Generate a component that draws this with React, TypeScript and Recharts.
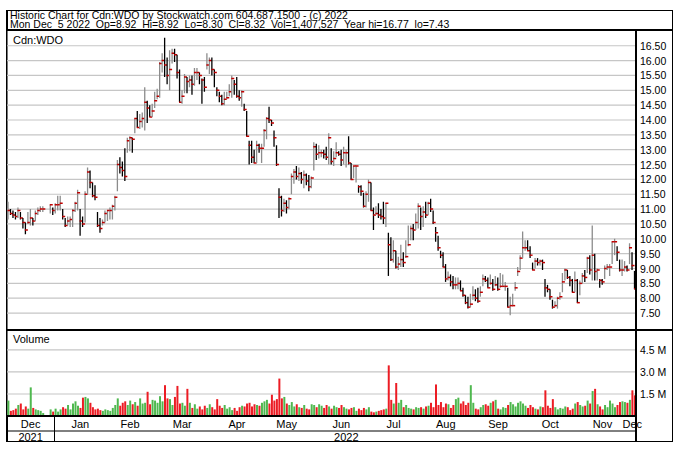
import { ComposedChart, Bar, XAxis, YAxis, CartesianGrid, Cell } from "recharts";

const FONT = "'Liberation Sans', Arial, sans-serif";

// trading-day index where each month starts (Dec 2021 .. Dec 2022)
const monthStarts = [0, 19, 40, 59, 82, 102, 123, 145, 165, 187, 208, 228, 250];
const monthLabels = ["Dec", "Jan", "Feb", "Mar", "Apr", "May", "Jun", "Jul", "Aug", "Sep", "Oct", "Nov", "Dec"];
const yearStarts = [0, 19];
const yearLabels = ["2021", "2022"];

const priceTicks = [7.5, 8, 8.5, 9, 9.5, 10, 10.5, 11, 11.5, 12, 12.5, 13, 13.5, 14, 14.5, 15, 15.5, 16, 16.5];
const volumeTicks = [1.5, 3.0, 4.5];

// one line per month
const highs = [
  11.25, 11.0, 10.95, 10.9, 11.05, 10.9, 10.7, 10.55, 10.9, 11.0, 10.7, 10.95, 11.05, 11.1, 11.1, null, null, 11.15, 11.05,
  11.2, 11.45, 11.45, 11.0, 10.7, 10.75, 10.75, 11.0, 11.25, 11.65, 11.0, 10.75, 11.6, 12.4, 12.3, 11.9, 11.8, 10.9, 10.7, 10.65, 10.95,
  10.95, 11.05, 11.15, 11.45, 12.65, 12.75, 12.6, 13.05, 13.4, 13.45, 13.4, 14.05, 14.3, 14.2, 14.25, 15.1, 14.65, 14.5, 14.55,
  14.95, 15.05, 15.95, 16.25, 16.77, 16.1, 16.35, 16.4, 16.4, 16.2, 15.7, 15.0, 15.55, 15.45, 15.5, 15.5, 15.75, 15.75, 15.6, 15.4, 15.45, 16.25, 16.1,
  16.1, 15.7, 15.1, 14.95, 14.85, 14.95, 14.95, 15.2, 15.5, 15.35, 15.45, 15.0, 15.0, 14.55, 14.3, 13.3, 13.3, 13.0, 13.3, 13.2,
  13.2, 13.7, 14.1, 14.45, 14.0, 13.65, 13.15, 11.7, 11.45, 11.35, 11.3, 11.4, 12.2, 12.35, 12.45, 12.4, 12.25, 12.3, 12.2, 12.15, 12.1,
  13.25, 13.2, 13.15, 13.0, 13.0, 13.1, 13.55, 13.05, 12.95, 13.25, 12.95, 13.0, 13.1, 13.0, 13.45, 12.55, 12.45, 12.45, 11.8, 11.8, 11.55, 11.6,
  12.0, 11.9, 11.05, 11.1, 11.2, 11.0, 11.25, 11.2, 10.2, 10.05, 9.95, 9.6, 9.4, 9.8, 9.55, 9.95, 10.45, 10.45, 10.5, 10.85,
  11.2, 11.05, 11.1, 11.25, 11.25, 11.35, 10.95, 10.4, 10.1, 9.6, 9.55, 9.15, 8.9, 8.8, 8.75, 8.7, 8.7, 8.6, 8.35, 8.1, 8.05, 8.15,
  8.4, 8.3, 8.35, 8.4, 8.8, 8.75, 8.7, 8.8, 8.65, 8.75, 8.7, 8.85, 8.8, 8.55, 8.35, 8.05, 8.15, 8.55, 9.05, 9.45, 10.25,
  9.95, 9.95, 9.75, 9.2, 9.35, 9.35, 9.3, 9.3, 8.65, 8.45, 8.3, 7.95, 7.9, 8.05, 8.2, 8.85, 9.0, 8.95, 8.75, 8.65,
  8.9, 8.65, 8.6, 8.85, 8.95, 9.4, 9.45, 10.45, 9.5, 9.0, 8.65, 8.65, 9.1, 9.15, 9.15, 9.9, 10.0, 9.75, 9.3, 9.3, 9.25, 9.1,
  9.85, 9.55, 8.92,
];

const lows = [
  10.65, 10.8, 10.7, 10.65, 10.7, 10.65, 10.35, 10.15, 10.5, 10.45, 10.45, 10.6, 10.8, 10.9, 10.9, null, null, 10.85, 10.8,
  10.85, 10.95, 10.95, 10.65, 10.4, 10.45, 10.4, 10.4, 10.9, 10.95, 10.1, 10.4, 10.55, 11.5, 11.7, 11.4, 11.3, 10.4, 10.2, 10.45, 10.55,
  10.6, 10.65, 10.65, 10.95, 11.6, 12.2, 12.1, 11.95, 12.9, 12.95, 12.9, 13.55, 13.75, 13.7, 13.75, 13.65, 13.9, 14.1, 14.1,
  14.4, 14.7, 14.75, 15.6, 15.45, 15.2, 15.0, 15.9, 15.95, 15.4, 14.6, 14.55, 14.9, 14.9, 15.1, 14.85, 15.15, 15.35, 15.2, 14.55, 14.95, 15.7, 15.55,
  15.5, 15.1, 14.8, 14.6, 14.5, 14.5, 14.7, 14.8, 14.75, 14.85, 14.75, 14.65, 14.45, 14.3, 13.45, 12.5, 12.55, 12.55, 12.55, 12.9,
  12.55, 13.1, 13.35, 13.9, 13.8, 13.1, 12.45, 10.7, 10.75, 10.9, 10.85, 11.0, 11.5, 11.85, 12.0, 11.95, 11.85, 11.7, 11.8, 11.6, 11.7,
  12.3, 12.65, 12.7, 12.75, 12.7, 12.65, 12.5, 12.5, 12.45, 12.75, 12.8, 12.45, 12.5, 12.4, 12.5, 12.0, 12.05, 11.9, 11.55, 11.45, 11.05, 11.05,
  11.25, 10.95, 10.3, 10.8, 10.7, 10.65, 10.5, 10.4, 8.75, 9.25, 9.2, 9.0, 8.95, 9.05, 9.05, 9.35, 9.75, 9.95, 9.95, 10.3,
  10.35, 10.3, 10.4, 10.7, 10.8, 10.9, 10.5, 9.9, 9.6, 9.35, 9.05, 8.55, 8.6, 8.4, 8.3, 8.3, 8.3, 8.25, 8.05, 7.8, 7.65, 7.7,
  7.95, 7.9, 7.85, 8.05, 8.4, 8.55, 8.35, 8.45, 8.25, 8.4, 8.25, 8.35, 8.4, 8.25, 7.7, 7.43, 7.75, 8.25, 8.75, 8.95, 9.35,
  9.6, 9.6, 9.35, 8.95, 9.0, 9.1, 9.1, 8.95, 8.05, 8.2, 7.95, 7.65, 7.7, 7.65, 7.95, 8.2, 8.6, 8.65, 8.4, 8.2,
  8.2, 7.85, 8.1, 8.5, 8.55, 8.85, 8.8, 8.6, 8.6, 8.6, 8.35, 8.45, 8.65, 8.95, 8.75, 9.15, 9.45, 9.25, 8.9, 8.75, 8.9, 8.9,
  9.15, 8.95, 8.3,
];

const closes = [
  10.95, 10.85, 10.8, 10.75, 10.95, 10.7, 10.55, 10.3, 10.55, 10.7, 10.6, 10.85, 10.95, 11.0, 11.0, null, null, 11.15, 10.95,
  11.15, 11.15, 11.2, 10.75, 10.45, 10.6, 10.65, 10.95, 11.2, 11.55, 10.6, 10.5, 11.5, 12.25, 11.9, 11.45, 11.4, 10.45, 10.35, 10.55, 10.85,
  10.95, 10.95, 11.1, 11.4, 12.5, 12.4, 12.3, 12.1, 13.3, 13.4, 13.35, 14.05, 13.75, 13.95, 14.05, 14.6, 14.4, 14.1, 14.3,
  14.65, 14.8, 15.9, 16.0, 15.85, 15.5, 15.7, 16.25, 16.2, 15.6, 14.6, 14.8, 15.45, 15.3, 15.35, 15.2, 15.6, 15.6, 15.5, 15.35, 15.1, 15.85, 16.0,
  15.7, 15.6, 15.0, 14.8, 14.55, 14.7, 14.75, 14.95, 15.4, 15.2, 14.8, 14.75, 14.95, 14.35, 13.45, 13.15, 12.75, 12.55, 13.15, 13.05,
  13.05, 13.65, 14.05, 14.0, 13.9, 13.4, 12.5, 11.4, 10.95, 11.2, 11.05, 11.35, 12.1, 12.25, 12.1, 12.2, 12.0, 12.15, 11.95, 11.75, 12.05,
  13.1, 12.85, 12.9, 12.9, 12.85, 12.75, 13.4, 12.6, 12.7, 12.9, 12.85, 12.65, 12.9, 12.9, 12.55, 12.0, 12.45, 12.45, 11.75, 11.6, 11.1, 11.5,
  11.9, 10.95, 10.8, 10.85, 10.8, 10.75, 10.7, 11.2, 9.8, 9.3, 9.6, 9.05, 9.15, 9.3, 9.2, 9.4, 9.8, 10.35, 10.3, 10.55,
  11.1, 10.75, 10.9, 10.8, 11.2, 11.0, 10.55, 10.2, 9.7, 9.45, 9.05, 8.65, 8.7, 8.55, 8.45, 8.45, 8.5, 8.25, 8.1, 7.85, 7.7, 7.8,
  8.1, 8.0, 7.9, 8.2, 8.65, 8.6, 8.35, 8.5, 8.3, 8.45, 8.3, 8.4, 8.4, 8.4, 7.7, 7.75, 7.75, 8.35, 8.9, 9.35, 9.7,
  9.7, 9.6, 9.45, 8.95, 9.25, 9.2, 9.25, 9.2, 8.35, 8.3, 8.05, 7.7, 7.75, 8.0, 8.05, 8.55, 8.95, 8.7, 8.6, 8.2,
  8.6, 7.85, 8.5, 8.75, 8.7, 9.35, 8.95, 9.45, 8.9, 8.95, 8.6, 8.55, 9.0, 9.05, 9.05, 9.9, 9.9, 9.55, 8.95, 8.95, 9.05, 8.95,
  9.7, 9.1, 8.32,
];

// volume in millions of shares
const volumes = [
  1.05, 0.35, 0.4, 0.5, 0.75, 0.85, 0.45, 0.65, 0.5, 1.95, 0.55, 0.45, 0.4, 0.35, 0.2, null, null, 0.45, 0.3,
  0.5, 0.3, 0.45, 0.6, 0.5, 0.75, 0.45, 0.85, 1.0, 0.7, 0.55, 1.25, 1.3, 1.2, 0.9, 0.6, 0.45, 0.5, 0.4, 0.35, 0.45,
  0.4, 0.35, 0.55, 0.75, 1.2, 0.7, 0.9, 1.0, 0.75, 1.05, 0.8, 0.95, 0.7, 1.2, 0.85, 0.9, 1.65, 0.8, 1.1,
  1.05, 0.9, 1.35, 1.0, 2.1, 1.2, 1.15, 0.75, 1.3, 2.05, 0.85, 0.9, 0.7, 1.85, 0.9, 0.55, 0.8, 0.5, 0.65, 0.45, 0.7, 0.55, 0.8,
  0.6, 0.45, 1.15, 0.7, 0.55, 0.75, 0.5, 0.6, 0.4, 0.55, 0.35, 0.6, 0.7, 0.65, 0.85, 0.9, 0.65, 0.8, 0.75, 0.7,
  0.9, 1.0, 1.1, 0.85, 1.45, 1.05, 1.15, 2.55, 1.2, 1.3, 0.85, 0.75, 0.95, 0.65, 0.8, 0.6, 0.55, 0.75, 0.5, 0.45, 0.8,
  0.75, 0.6, 0.8, 0.7, 0.55, 0.75, 0.65, 0.5, 0.7, 0.6, 0.55, 0.75, 0.6, 0.5, 0.45, 0.55, 0.6, 0.35, 0.5, 0.4, 0.55, 0.45,
  0.6, 0.3, 0.25, 0.3, 0.35, 0.4, 0.45, 0.5, 3.45, 1.1, 0.85, 2.25, 0.9, 1.1, 0.6, 0.75, 0.55, 0.5, 0.45, 0.6,
  0.55, 0.6, 0.5, 0.65, 0.7, 0.9, 0.6, 2.15, 0.75, 0.95, 0.6, 0.85, 0.8, 0.55, 0.75, 1.15, 1.25, 0.85, 1.0, 0.75, 0.9, 2.1,
  0.9, 0.5, 0.45, 0.6, 0.75, 0.8, 0.7, 0.9, 1.0, 1.1, 0.5, 0.45, 0.6, 0.55, 0.75, 0.95, 0.8, 0.65, 0.9, 1.0, 0.85,
  0.7, 0.55, 0.75, 0.6, 0.5, 0.45, 0.65, 0.6, 1.75, 0.7, 0.55, 1.15, 0.6, 0.45, 0.55, 0.5, 0.65, 0.6, 0.4, 0.5,
  0.85, 0.95, 0.75, 0.65, 0.7, 1.05, 0.85, 1.7, 1.85, 0.8, 0.65, 0.45, 0.75, 0.6, 1.05, 0.85, 0.6, 0.75, 0.95, 1.0, 0.95, 0.9,
  1.1, 1.75, 1.41,
];

let prevClose: number | null = null;
const rows = highs.map((h, i) => {
  const c = closes[i];
  const up = c == null || prevClose == null ? true : c >= prevClose;
  if (c != null) prevClose = c;
  return { i, high: h, low: lows[i], close: c, vol: volumes[i], up };
});

const spanMids = (starts: number[]) =>
  starts.map((s, k) => Math.floor((s + (starts[k + 1] ?? rows.length)) / 2));
const monthMids = spanMids(monthStarts);
const yearMids = spanMids(yearStarts);
const monthByMid = new Map(monthMids.map((m, k) => [m, monthLabels[k]]));
const yearByMid = new Map(yearMids.map((m, k) => [m, yearLabels[k]]));

const OhlcShape = (props: any) => {
  const { x, y, width, height, index } = props;
  const d = props.payload ?? rows[index];
  if (!d || d.high == null) return null;
  const top = Math.min(y, y + height);
  const span = Math.abs(height);
  const cx = x + width / 2;
  const range = d.high - d.low;
  const cy = top + (range > 0 ? ((d.high - d.close) / range) * span : 0);
  return (
    <g>
      <line x1={cx} x2={cx} y1={top} y2={top + Math.max(span, 1)} stroke={d.up ? "#8c8c8c" : "#000"} strokeWidth={1.3} />
      <line x1={cx - 0.5} x2={cx + 2.5} y1={cy} y2={cy} stroke="#c00000" strokeWidth={1.5} />
    </g>
  );
};

const MonthTick = ({ x, y, payload }: any) => (
  <text x={x} y={y + 12} textAnchor="middle" fontSize={11} fontFamily={FONT} fill="#000">
    {monthByMid.get(payload.value)}
  </text>
);

const YearTick = ({ x, y, payload }: any) => (
  <text x={x} y={y + 10} textAnchor="middle" fontSize={11} fontFamily={FONT} fill="#000">
    {yearByMid.get(payload.value)}
  </text>
);

const PriceTick = ({ x, y, payload }: any) => (
  <text x={x} y={y + 4} textAnchor="start" fontSize={10.5} fontFamily={FONT} fill="#000">
    {payload.value.toFixed(2)}
  </text>
);

const VolumeTick = ({ x, y, payload }: any) => (
  <text x={x} y={y + 4} textAnchor="start" fontSize={10.5} fontFamily={FONT} fill="#000" style={{ whiteSpace: "pre" }}>
    {payload.value.toFixed(1) + " M"}
  </text>
);

const line = (left: number, top: number, width: number, height: number) => (
  <div style={{ position: "absolute", left, top, width, height, background: "#000" }} />
);

export default function App() {
  const gridStroke = "#c6c6c6";
  return (
    <div style={{ position: "absolute", left: 0, top: 0, width: 680, height: 449, background: "#fff", fontFamily: FONT, color: "#000", overflow: "hidden" }}>
      <div style={{ position: "absolute", left: 6, top: 10, width: 667, height: 432, boxSizing: "border-box", borderStyle: "solid", borderColor: "#000", borderWidth: "1px 1px 1px 2px" }} />
      <div style={{ position: "absolute", left: 10, top: 10.5, fontSize: 10.5, lineHeight: "9.6px", whiteSpace: "pre" }}>
        <div>Historic Chart for Cdn:WDO by Stockwatch.com 604.687.1500 - (c) 2022</div>
        <div>Mon Dec  5 2022  Op=8.92  Hi=8.92  Lo=8.30  Cl=8.32  Vol=1,407,527  Year hi=16.77  lo=7.43</div>
      </div>

      <div style={{ position: "absolute", left: 7, top: 30 }}>
        <ComposedChart width={666} height={300} data={rows} margin={{ top: 0, right: 0, bottom: 0, left: 0 }} barCategoryGap={0}>
          <CartesianGrid stroke={gridStroke} strokeWidth={1.2} />
          <XAxis dataKey="i" type="category" ticks={monthStarts.slice(1)} interval={0} height={0} tick={false} axisLine={false} tickLine={false} />
          <YAxis orientation="right" width={37} domain={[6.93, 17.03]} allowDataOverflow ticks={priceTicks} interval={0}
            tick={<PriceTick />} tickSize={0} tickMargin={4} axisLine={false} tickLine={false} />
          <Bar dataKey={(d: any) => (d.high == null ? null : [d.low, d.high])} shape={OhlcShape} isAnimationActive={false} />
        </ComposedChart>
      </div>

      <div style={{ position: "absolute", left: 7, top: 330 }}>
        <ComposedChart width={666} height={112} data={rows} margin={{ top: 0, right: 0, bottom: 0, left: 0 }} barCategoryGap="15%">
          <CartesianGrid stroke={gridStroke} strokeWidth={1.2} xAxisId="g" />
          <XAxis xAxisId="g" dataKey="i" type="category" ticks={monthStarts.slice(1)} interval={0} height={0} tick={false} axisLine={false} tickLine={false} />
          <XAxis xAxisId="m" dataKey="i" type="category" ticks={monthMids} interval={0} height={15} tick={<MonthTick />} tickSize={0} tickMargin={0} axisLine={{ stroke: "#000", strokeWidth: 2 }} tickLine={false} />
          <XAxis xAxisId="y" dataKey="i" type="category" ticks={yearMids} interval={0} height={11} tick={<YearTick />} tickSize={0} tickMargin={0} axisLine={{ stroke: "#000", strokeWidth: 1 }} tickLine={false} />
          <YAxis orientation="right" width={37} domain={[0, 5.86]} ticks={volumeTicks} interval={0}
            tick={<VolumeTick />} tickSize={0} tickMargin={4} axisLine={false} tickLine={false} />
          <Bar xAxisId="g" dataKey="vol" isAnimationActive={false}>
            {rows.map((d) => (
              <Cell key={d.i} fill={d.up ? "#4fb84f" : "#ec1c24"} />
            ))}
          </Bar>
        </ComposedChart>
      </div>

      {line(6, 29, 667, 2)}
      {line(6, 329, 667, 2)}
      {line(635, 30, 2, 412)}
      {line(54, 416, 1, 26)}
      <div style={{ position: "absolute", left: 13, top: 34.5, fontSize: 11, lineHeight: "11px" }}>Cdn:WDO</div>
      <div style={{ position: "absolute", left: 13, top: 333.5, fontSize: 11, lineHeight: "11px" }}>Volume</div>
    </div>
  );
}
